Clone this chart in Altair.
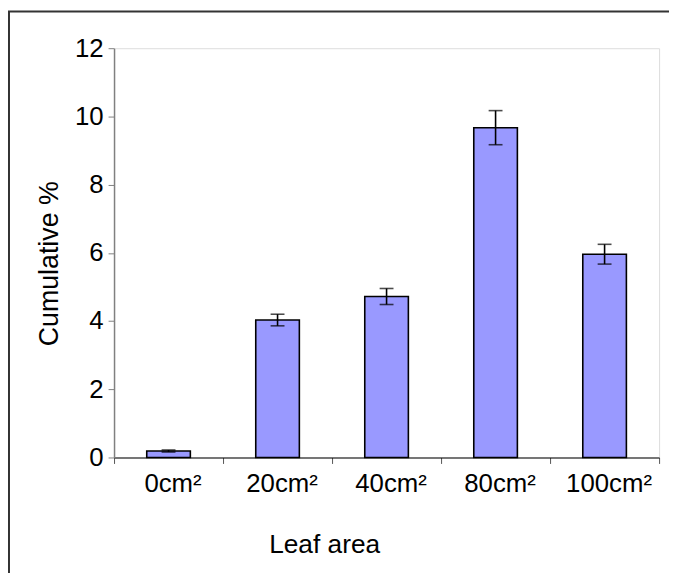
import altair as alt
import pandas as pd

categories = ["0cm²", "20cm²", "40cm²", "80cm²", "100cm²"]
values = [0.19, 4.03, 4.72, 9.67, 5.96]
errors = [0.03, 0.17, 0.235, 0.5, 0.29]
y_ticks = [0, 2, 4, 6, 8, 10, 12]

df = pd.DataFrame({"area": categories, "value": values, "err": errors})
df["lo"] = df["value"] - df["err"]
df["hi"] = df["value"] + df["err"]

FONT = "Liberation Sans"

x_enc = alt.X(
    "area:N",
    sort=categories,
    scale=alt.Scale(paddingInner=0, paddingOuter=0),
    axis=alt.Axis(
        title="Leaf area",
        labelAngle=0,
        tickBand="extent",
        ticks=True,
        tickSize=6,
        tickColor="#555555",
        domainColor="#000000",
        domainWidth=1.2,
        labelFont=FONT,
        labelFontSize=26,
        labelColor="#000000",
        labelPadding=7,
        labelOffset=4,
        titleFont=FONT,
        titleFontSize=26.5,
        titleFontWeight="normal",
        titleColor="#000000",
        titleX=212,
        titleY=88,
        titleAlign="center",
        titleBaseline="middle",
    ),
)

y_scale = alt.Scale(domain=[0, 12], nice=False)

bars = alt.Chart(df).mark_bar(
    width=alt.RelativeBandSize(0.4),
    color="#9999FF",
    stroke="#000000",
    strokeWidth=1.6,
).encode(
    x=x_enc,
    y=alt.Y(
        "value:Q",
        scale=y_scale,
        axis=alt.Axis(
            title="Cumulative %",
            values=y_ticks,
            grid=False,
            tickSize=6,
            tickColor="#808080",
            domainColor="#808080",
            domainWidth=1.5,
            labelFont=FONT,
            labelFontSize=26,
            labelColor="#000000",
            labelPadding=5,
            titleFont=FONT,
            titleFontSize=27,
            titleFontWeight="normal",
            titleColor="#000000",
            titleAngle=270,
            titleX=-65,
            titleY=217,
            titleAlign="center",
            titleBaseline="middle",
        ),
    ),
)

rules = alt.Chart(df).mark_rule(color="#000000", strokeWidth=1.6).encode(
    x=alt.X("area:N", sort=categories),
    y=alt.Y("lo:Q", scale=y_scale),
    y2="hi:Q",
)

caps_lo = alt.Chart(df).mark_tick(color="#000000", size=14, thickness=1.6).encode(
    x=alt.X("area:N", sort=categories),
    y=alt.Y("lo:Q", scale=y_scale),
)
caps_hi = alt.Chart(df).mark_tick(color="#000000", size=14, thickness=1.6).encode(
    x=alt.X("area:N", sort=categories),
    y=alt.Y("hi:Q", scale=y_scale),
)

frame = alt.Chart(pd.DataFrame({"f": [0]})).mark_rect(
    fill=None, stroke="#333333", strokeWidth=2
).encode(
    x=alt.value(-106),
    x2=alt.value(700),
    y=alt.value(-37),
    y2=alt.value(700),
)

chart = alt.layer(frame, bars, rules, caps_lo, caps_hi).properties(
    width=550,
    height=413,
    autosize=alt.AutoSizeParams(type="none"),
    padding={"left": 107, "top": 38, "right": 10, "bottom": 114},
).configure_view(stroke=None).configure(background="white")

chart.save("out.html", embed_options={"renderer": "svg", "actions": False})
